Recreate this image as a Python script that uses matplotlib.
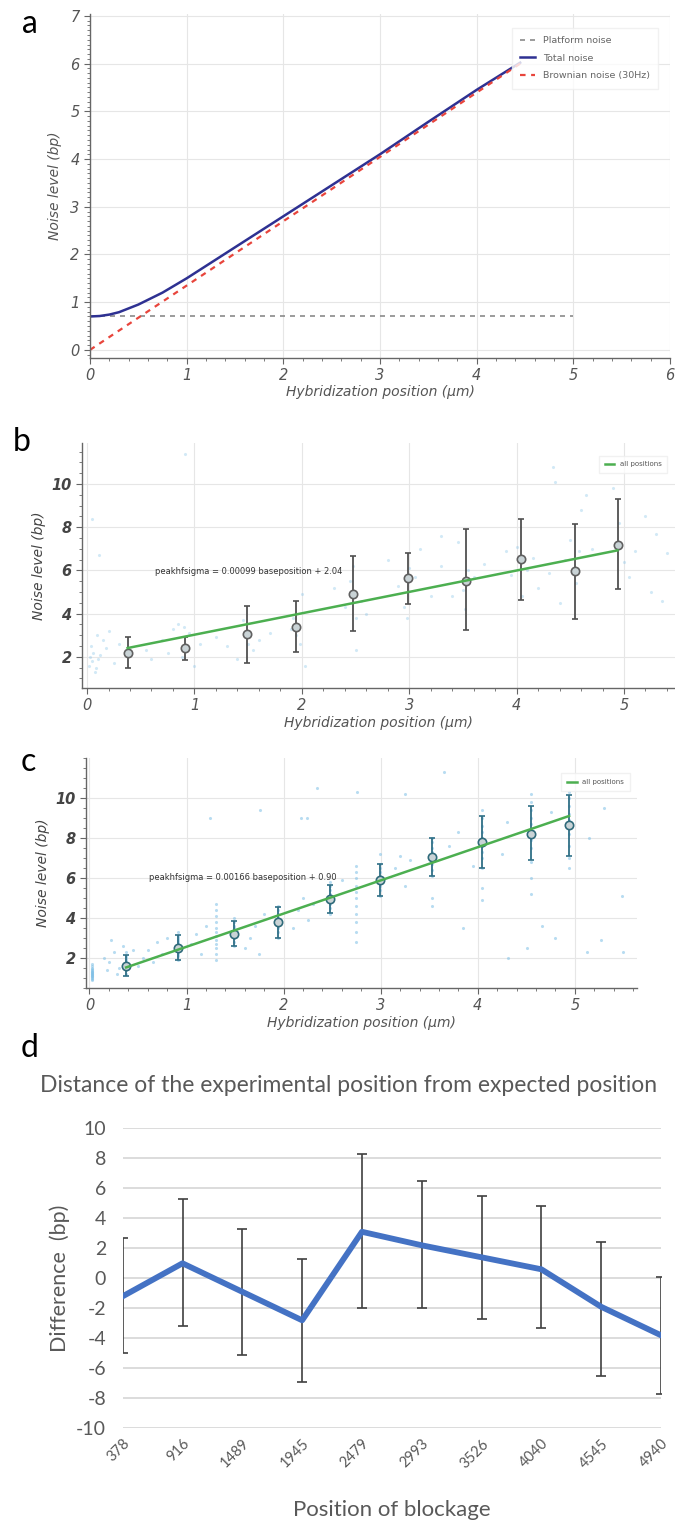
import numpy as np
import matplotlib
matplotlib.use('Agg')
import matplotlib.pyplot as plt
from matplotlib.ticker import MultipleLocator

plt.rcParams['axes.unicode_minus'] = False

# ---- panel a: noise model ----
total_x = [0, 0.1, 0.2, 0.3, 0.5, 0.75, 1.0, 1.5, 2.0, 2.5, 3.0, 3.5, 4.0, 4.45]
total_y = [0.70, 0.71, 0.74, 0.79, 0.95, 1.20, 1.50, 2.15, 2.80, 3.45, 4.10, 4.78, 5.45, 6.02]
brown_x = [0, 4.45]
brown_y = [0, 6.0]
platform_x = [0, 5]
platform_y = [0.7, 0.7]

# ---- shared positions (bp) ----
positions = [378, 916, 1489, 1945, 2479, 2993, 3526, 4040, 4545, 4940]
pos_um = [p / 1000 for p in positions]

# ---- panel b ----
b_mean = [2.19, 2.39, 3.05, 3.39, 4.93, 5.63, 5.52, 6.51, 5.98, 7.20]
b_top = [2.90, 2.93, 4.36, 4.59, 6.68, 6.81, 7.90, 8.40, 8.17, 9.33]
b_bot = [1.49, 1.85, 1.72, 2.22, 3.19, 4.44, 3.23, 4.62, 3.74, 5.12]
b_fit_x = [0.378, 4.94]
b_fit_y = [2.41, 6.93]
b_scatter_x = [0.02, 0.03, 0.05, 0.06, 0.08, 0.04, 0.10, 0.12, 0.07, 0.15, 0.20, 0.18, 0.25, 0.30,
               0.09, 0.05, 0.11, 0.91, 0.55, 0.60, 0.70, 0.80, 0.85, 0.90, 0.95, 0.88, 1.00, 0.75,
               1.05, 1.20, 1.30, 1.45, 1.50, 1.55, 1.40, 1.60, 1.70, 1.90, 1.95, 1.98, 1.92, 2.00,
               2.03, 2.40, 2.45, 2.50, 2.48, 2.55, 2.30, 2.60, 2.50, 2.90, 2.95, 3.00, 2.98, 3.05,
               3.20, 3.30, 2.80, 3.10, 3.45, 3.50, 3.55, 3.52, 3.60, 3.40, 3.70, 3.30, 3.95, 4.00,
               4.05, 4.10, 4.20, 4.15, 3.90, 4.30, 4.36, 4.34, 4.45, 4.50, 4.55, 4.60, 4.58, 4.40,
               4.70, 4.65, 4.90, 4.95, 5.00, 5.10, 5.20, 5.25, 5.05, 5.30, 5.35, 5.40]
b_scatter_y = [1.6, 2.0, 1.8, 2.2, 1.5, 2.5, 1.9, 2.1, 1.3, 2.8, 3.2, 2.4, 1.7, 2.6,
               3.0, 8.4, 6.7, 11.4, 2.3, 1.9, 2.8, 3.3, 3.5, 3.4, 3.1, 2.0, 1.6, 2.2,
               2.6, 2.9, 2.5, 3.7, 2.6, 2.3, 1.9, 2.8, 3.1, 3.3, 3.0, 2.6, 3.8, 4.9,
               1.6, 4.3, 5.5, 3.8, 6.2, 4.6, 5.2, 4.0, 2.3, 5.3, 4.3, 6.1, 3.8, 5.7,
               4.8, 6.2, 6.5, 7.0, 7.3, 5.1, 6.0, 4.2, 5.7, 4.8, 6.3, 7.6, 5.8, 7.1,
               4.8, 6.0, 5.2, 6.6, 6.9, 5.9, 10.1, 10.8, 6.5, 7.4, 5.4, 8.8, 6.9, 4.5,
               7.0, 9.5, 9.8, 8.2, 6.4, 6.9, 8.5, 5.0, 5.7, 7.7, 4.6, 6.8]

# ---- panel c ----
c_mean = [1.62, 2.50, 3.22, 3.78, 4.95, 5.88, 7.05, 7.78, 8.22, 8.67]
c_top = [2.17, 3.17, 3.83, 4.53, 5.67, 6.72, 8.00, 9.12, 9.62, 10.17]
c_bot = [1.12, 1.92, 2.58, 3.00, 4.25, 5.12, 6.12, 6.50, 6.88, 7.08]
c_fit_x = [0.378, 4.94]
c_fit_y = [1.53, 9.10]
c_col_x = [0.03, 0.378, 0.916, 1.30, 1.489, 1.945, 2.479, 2.75, 2.993, 3.526, 4.04, 4.545, 4.94]
c_col_y = [
    [0.9, 1.0, 1.1, 1.15, 1.2, 1.25, 1.3, 1.35, 1.4, 1.5, 1.6, 1.7, 1.05, 1.2, 1.3, 1.1, 1.45, 0.95],
    [1.2, 1.4, 1.5, 1.6, 1.7, 1.8, 1.9, 2.0, 2.1, 2.3],
    [1.9, 2.1, 2.2, 2.3, 2.4, 2.5, 2.6, 2.7, 2.8, 2.9, 3.0, 3.1, 3.3],
    [1.9, 2.2, 2.5, 2.7, 2.9, 3.1, 3.3, 3.5, 3.8, 4.1, 4.4, 4.7],
    [2.6, 2.8, 3.0, 3.1, 3.2, 3.3, 3.4, 3.5, 3.6, 3.8, 4.0],
    [3.0, 3.3, 3.5, 3.6, 3.7, 3.8, 3.9, 4.0, 4.2, 4.4, 4.6],
    [4.2, 4.5, 4.7, 4.8, 4.9, 5.0, 5.1, 5.2, 5.4, 5.6, 5.8],
    [2.8, 3.3, 3.8, 4.2, 4.6, 5.0, 5.3, 5.6, 6.0, 6.3, 6.6],
    [5.1, 5.4, 5.6, 5.8, 5.9, 6.0, 6.1, 6.3, 6.5, 6.7, 7.2],
    [6.1, 6.4, 6.7, 6.9, 7.0, 7.1, 7.3, 7.5, 7.8, 8.0, 5.0, 4.6],
    [6.5, 7.0, 7.3, 7.6, 7.8, 8.0, 8.3, 8.6, 9.0, 9.4, 5.5, 4.9],
    [6.8, 7.5, 7.9, 8.2, 8.4, 8.7, 9.0, 9.4, 9.8, 10.2, 6.0, 5.2],
    [7.0, 7.6, 8.2, 8.6, 8.9, 9.2, 9.6, 10.0, 10.3, 6.5],
]
c_scatter_x = [0.15, 0.20, 0.25, 0.30, 0.35, 0.18, 0.22, 0.28, 0.55, 0.60, 0.65, 0.70, 0.75, 0.80,
               0.50, 1.05, 1.10, 1.15, 1.20, 1.60, 1.65, 1.70, 1.75, 1.80, 2.10, 2.15, 2.20, 2.25,
               2.30, 3.15, 3.20, 3.25, 3.30, 1.24, 1.76, 2.24, 2.34, 2.76, 3.25, 3.65, 2.18, 5.49,
               5.27, 4.80, 4.66, 3.85, 4.51, 4.31, 5.13, 5.50, 3.70, 3.80, 4.25, 4.30, 4.75, 5.15,
               5.30, 3.95, 2.60, 0.45]
c_scatter_y = [2.0, 1.8, 2.3, 1.5, 2.6, 1.4, 2.9, 1.2, 2.0, 2.4, 1.8, 2.8, 2.2, 3.0,
               1.6, 2.7, 3.2, 2.2, 3.6, 2.5, 3.0, 3.6, 2.2, 4.2, 3.5, 4.4, 5.0, 3.9,
               4.7, 6.5, 7.1, 5.6, 6.9, 9.0, 9.4, 9.0, 10.5, 10.3, 10.2, 11.3, 9.0, 5.1,
               2.9, 3.0, 3.6, 3.5, 2.5, 2.0, 2.3, 2.3, 7.6, 8.3, 7.2, 8.8, 9.3, 8.0,
               9.5, 6.6, 5.9, 2.4]

# ---- panel d ----
d_labels = ['378', '916', '1489', '1945', '2479', '2993', '3526', '4040', '4545', '4940']
d_diff = [-1.2, 1.0, -0.9, -2.8, 3.1, 2.2, 1.4, 0.6, -1.9, -3.8]
d_top = [2.7, 5.3, 3.3, 1.3, 8.3, 6.5, 5.5, 4.8, 2.4, 0.1]
d_bot = [-5.0, -3.2, -5.1, -6.9, -2.0, -2.0, -2.7, -3.3, -6.5, -7.7]

W, H = 675, 1524
fig = plt.figure(figsize=(W / 100, H / 100), dpi=100)


def box(l, t, r, b):
    return [l / W, 1 - b / H, (r - l) / W, (b - t) / H]


def style_noise_axes(ax):
    for s in ['top', 'right']:
        ax.spines[s].set_visible(False)
    for s in ['left', 'bottom']:
        ax.spines[s].set_color('#666666')
        ax.spines[s].set_linewidth(1.0)
    ax.grid(True, color='#e6e6e6', linewidth=0.8)
    ax.set_axisbelow(True)
    ax.tick_params(which='both', direction='out', colors='#666666', labelcolor='#555555',
                   labelsize=10.5)
    ax.tick_params(which='major', length=4)
    ax.tick_params(which='minor', length=2)
    for lab in ax.get_xticklabels() + ax.get_yticklabels():
        lab.set_fontstyle('italic')


# ---------------- a ----------------
ax = fig.add_axes(box(90, 14, 670, 358))
ax.plot(platform_x, platform_y, linestyle=(0, (3, 3)), color='#8a8a8a', lw=1.2, label='Platform noise')
ax.plot(total_x, total_y, color='#2e3192', lw=1.8, label='Total noise')
ax.plot(brown_x, brown_y, linestyle=(0, (2.5, 2.5)), color='#e8453c', lw=1.6, label='Brownian noise (30Hz)')
ax.set_xlim(0, 6)
ax.set_ylim(-0.17, 7.04)
ax.xaxis.set_major_locator(MultipleLocator(1))
ax.xaxis.set_minor_locator(MultipleLocator(0.2))
ax.yaxis.set_major_locator(MultipleLocator(1))
ax.yaxis.set_minor_locator(MultipleLocator(0.1))
style_noise_axes(ax)
ax.set_xlabel('Hybridization position (\u03bcm)', fontstyle='italic', color='#555555', fontsize=10, labelpad=1)
ax.set_ylabel('Noise level (bp)', fontstyle='italic', color='#555555', fontsize=10, labelpad=6)
leg = ax.legend(loc='upper right', bbox_to_anchor=(0.988, 0.974), fontsize=6.8, frameon=True,
                handlelength=1.6, borderpad=0.9, labelspacing=0.9, fancybox=False)
leg.get_frame().set_edgecolor('#eeeeee')
for t in leg.get_texts():
    t.set_color('#666666')

# ---------------- b & c ----------------
def noise_panel(rect, xlim, ylim, sx, sy, mean, top, bot, fit_x, fit_y, eq, eq_xy, legxy,
                err_color, mk_color, dot_alpha):
    ax = fig.add_axes(rect)
    ax.scatter(sx, sy, s=5, color='#7fc0e6', alpha=dot_alpha, linewidths=0, zorder=2)
    lo = [m - b for m, b in zip(mean, bot)]
    hi = [t - m for m, t in zip(mean, top)]
    ax.errorbar(pos_um, mean, yerr=[lo, hi], fmt='o', ms=6, mfc='#c9d3d6', mec=mk_color, mew=1.2,
                ecolor=err_color, elinewidth=1.3, capsize=2.5, capthick=1.2, zorder=4)
    ax.plot(fit_x, fit_y, color='#4caf50', lw=1.8, label='all positions', zorder=5)
    ax.set_xlim(*xlim)
    ax.set_ylim(*ylim)
    ax.xaxis.set_major_locator(MultipleLocator(1))
    ax.xaxis.set_minor_locator(MultipleLocator(0.2))
    ax.yaxis.set_major_locator(MultipleLocator(2))
    ax.yaxis.set_minor_locator(MultipleLocator(0.5))
    ax.set_yticks([2, 4, 6, 8, 10])
    style_noise_axes(ax)
    for lab in ax.get_yticklabels():
        lab.set_fontweight('bold')
        lab.set_color('#444444')
    ax.text(eq_xy[0], eq_xy[1], eq, fontsize=6, color='#333333', va='center', zorder=6)
    ax.set_xlabel('Hybridization position (\u03bcm)', fontstyle='italic', color='#555555', fontsize=10, labelpad=2)
    ax.set_ylabel('Noise level (bp)', fontstyle='italic', color='#444444', fontsize=10, labelpad=4)
    leg = ax.legend(loc='upper right', bbox_to_anchor=legxy, fontsize=5, frameon=True,
                    handlelength=1.4, borderpad=0.8, fancybox=False)
    leg.get_frame().set_edgecolor('#eeeeee')
    for t in leg.get_texts():
        t.set_color('#555555')
    return ax


noise_panel(box(82, 443, 675, 688), (-0.047, 5.475), (0.56, 11.9), b_scatter_x, b_scatter_y,
            b_mean, b_top, b_bot, b_fit_x, b_fit_y,
            'peakhfsigma = 0.00099 baseposition + 2.04', (0.63, 5.94), (0.993, 0.963),
            '#505050', '#606060', 0.35)

cx = list(c_scatter_x)
cy = list(c_scatter_y)
for x0, ys in zip(c_col_x, c_col_y):
    cx += [x0] * len(ys)
    cy += ys
noise_panel(box(86, 758, 637, 988), (-0.036, 5.64), (0.5, 12.0), cx, cy,
            c_mean, c_top, c_bot, c_fit_x, c_fit_y,
            'peakhfsigma = 0.00166 baseposition + 0.90', (0.61, 6.03), (0.993, 0.948),
            '#2f6f86', '#2f6a7a', 0.55)

# ---------------- d ----------------
axd = fig.add_axes(box(122.7, 1128.3, 661, 1428.3))
xi = np.arange(len(d_labels))
lo = [m - b for m, b in zip(d_diff, d_bot)]
hi = [t - m for m, t in zip(d_diff, d_top)]
axd.errorbar(xi, d_diff, yerr=[lo, hi], fmt='none', ecolor='#404040', elinewidth=1.2,
             capsize=3.5, capthick=1.2, zorder=3)
axd.plot(xi, d_diff, color='#4472c4', lw=4.2, solid_joinstyle='round', zorder=4)
axd.set_xlim(0, 9)
axd.set_ylim(-10, 10)
axd.set_yticks(range(-10, 11, 2))
axd.set_xticks(xi)
axd.set_xticklabels(d_labels, rotation=45, ha='right', va='top', rotation_mode='anchor')
for s in axd.spines.values():
    s.set_visible(False)
axd.grid(True, axis='y', color='#d9d9d9', linewidth=1.3)
axd.set_axisbelow(True)
axd.tick_params(axis='both', length=0, colors='#595959')
axd.tick_params(axis='y', labelsize=14, pad=12)
axd.tick_params(axis='x', labelsize=10.5, pad=6)
for lab in axd.get_xticklabels() + axd.get_yticklabels():
    lab.set_family('Lato')
axd.set_ylabel('Difference  (bp)', fontsize=15.5, color='#595959', family='Lato', labelpad=4)
fig.text(392 / W, 1 - 1510 / H, 'Position of blockage', fontsize=16, color='#595959',
         family='Lato', ha='center', va='center')
fig.text(349 / W, 1 - 1085 / H, 'Distance of the experimental position from expected position',
         fontsize=16.5, color='#595959', family='Lato', ha='center', va='center')

# panel letters
for letter, (px, py) in zip('abcd', [(30, 24), (22, 442), (28, 762), (30, 1048)]):
    fig.text(px / W, 1 - py / H, letter, fontsize=23, family='Lato', color='black',
             ha='center', va='center')

fig.savefig('out.png', dpi=100)
